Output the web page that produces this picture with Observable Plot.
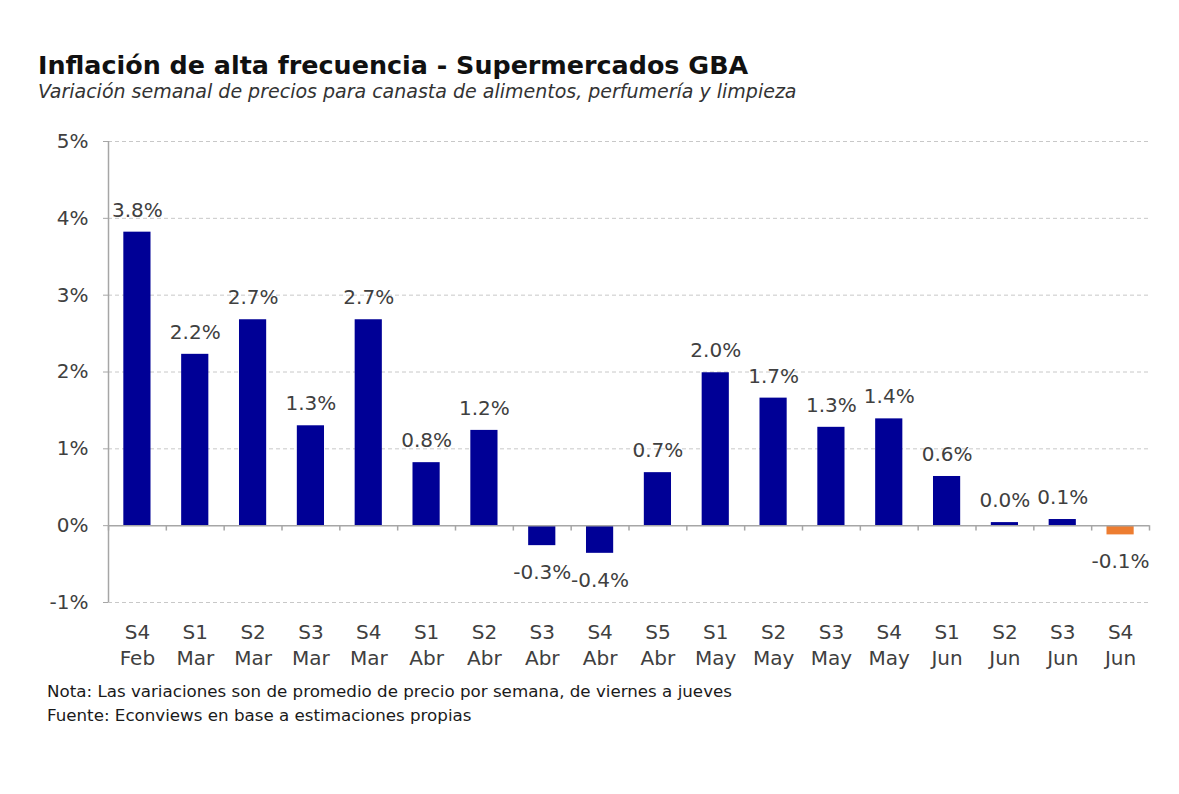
<!DOCTYPE html>
<html><head><meta charset="utf-8">
<script src="https://cdn.jsdelivr.net/npm/d3@7"></script>
<script src="https://cdn.jsdelivr.net/npm/@observablehq/plot@0.6"></script>
<style>
body{margin:0;background:#fff;width:1179px;height:794px;position:relative;overflow:hidden;font-family:"DejaVu Sans",Verdana,sans-serif;}
.t{position:absolute;white-space:nowrap;transform-origin:left top;}
#title{left:38px;top:53px;font-weight:bold;font-size:25.4px;line-height:25px;color:#111;}
#subtitle{left:38px;top:82px;font-style:italic;font-size:19px;line-height:19px;color:#333;}
#chart{position:absolute;left:0;top:120px;}
#notes{left:47px;top:679px;font-size:16.7px;line-height:24px;color:#1a1a1a;}
</style>
</head><body>
<div id="title" class="t">Inflación de alta frecuencia - Supermercados GBA</div>
<div id="subtitle" class="t">Variación semanal de precios para canasta de alimentos, perfumería y limpieza</div>
<div id="chart"></div>
<div id="notes" class="t">Nota: Las variaciones son de promedio de precio por semana, de viernes a jueves<br>Fuente: Econviews en base a estimaciones propias</div>
<script>
const weeks  = ["S4","S1","S2","S3","S4","S1","S2","S3","S4","S5","S1","S2","S3","S4","S1","S2","S3","S4"];
const months = ["Feb","Mar","Mar","Mar","Mar","Abr","Abr","Abr","Abr","Abr","May","May","May","May","Jun","Jun","Jun","Jun"];
const values = [3.82, 2.23, 2.68, 1.30, 2.68, 0.82, 1.24, -0.26, -0.36, 0.69, 1.99, 1.66, 1.28, 1.39, 0.64, 0.04, 0.08, -0.12];
const yTicks = [-1, 0, 1, 2, 3, 4, 5];
const highlightIndex = 17;

const data = values.map((v, i) => ({key: weeks[i] + "\n" + months[i], value: v, hi: i === highlightIndex}));
const keys = data.map(d => d.key);

const W = 1179, H = 560, mL = 108, mR = 30, mT = 21, mB = 78;
const step = (W - mL - mR) / keys.length;
const fmt = v => v.toFixed(1) + "%";

const chart = Plot.plot({
  width: W, height: H,
  marginLeft: mL, marginRight: mR, marginTop: mT, marginBottom: mB,
  style: {fontFamily: '"DejaVu Sans", Verdana, sans-serif', fontSize: "20px", color: "#404040", background: "white"},
  x: {domain: keys, paddingInner: 0.53, paddingOuter: 0.265, round: false, axis: null},
  y: {domain: [-1, 5], axis: null},
  marks: [
    Plot.gridY(yTicks.filter(t => t !== 0), {stroke: "#c8c8c8", strokeOpacity: 1, strokeDasharray: "4,3"}),
    Plot.barY(data, {x: "key", y: "value", fill: d => d.hi ? "#ED7D31" : "#000096"}),
    Plot.ruleY([0], {stroke: "#a6a6a6", strokeWidth: 1.5}),
    Plot.ruleX([keys[0]], {y1: -1, y2: 5, dx: -step / 2, stroke: "#a6a6a6", strokeWidth: 1.5}),
    Plot.ruleX(keys, {y1: 0, y2: -0.07, dx: -step / 2, stroke: "#a6a6a6", strokeWidth: 1.5}),
    Plot.ruleX([keys[keys.length - 1]], {y1: 0, y2: -0.07, dx: step / 2, stroke: "#a6a6a6", strokeWidth: 1.5}),
    Plot.axisY(yTicks, {tickSize: 5, tickPadding: 15, tickFormat: d => d + "%", fontSize: 20, stroke: "#a6a6a6", fill: "#404040", label: null}),
    Plot.axisX({tickSize: 0, tickPadding: 18, fontSize: 20, lineHeight: 1.3, fill: "#404040", label: null}),
    Plot.text(data.filter(d => d.value >= 0), {x: "key", y: "value", text: d => fmt(d.value), dy: -22, fontSize: 20, fill: "#404040"}),
    Plot.text(data.filter(d => d.value < 0), {x: "key", y: "value", text: d => fmt(d.value), dy: 27, fontSize: 20, fill: "#404040"})
  ]
});
document.getElementById("chart").appendChild(chart);
</script>
</body></html>
